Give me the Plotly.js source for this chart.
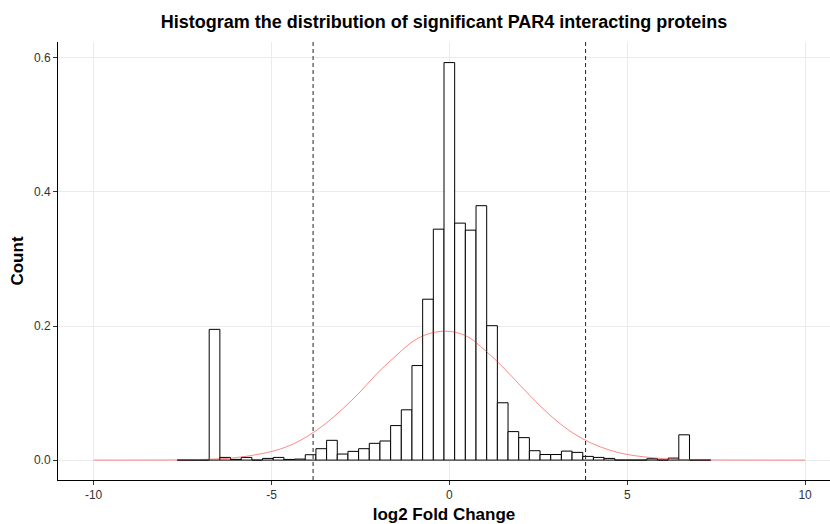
<!DOCTYPE html>
<html>
<head>
<meta charset="utf-8">
<script src="https://cdn.plot.ly/plotly-3.0.1.min.js"></script>
<style>html,body{margin:0;padding:0;background:#fff;}</style>
</head>
<body>
<div id="chart" style="width:830px;height:524px;"></div>
<script>
// Histogram bin centres (log2 fold change) and density heights
var binCenters = [-7.5,-7.2,-6.9,-6.6,-6.3,-6.0,-5.7,-5.4,-5.1,-4.8,-4.5,-4.2,-3.9,-3.6,-3.3,-3.0,-2.7,-2.4,-2.1,-1.8,-1.5,-1.2,-0.9,-0.6,-0.3,0.0,0.3,0.6,0.9,1.2,1.5,1.8,2.1,2.4,2.7,3.0,3.3,3.6,3.9,4.2,4.5,4.8,5.1,5.4,5.7,6.0,6.3,6.6,6.9,7.2];
var binDensity = [0,0,0,0.195,0.004,0.001,0.004,0,0.0025,0.004,0.001,0.0015,0.008,0.017,0.0295,0.009,0.013,0.017,0.025,0.0285,0.0515,0.075,0.141,0.240,0.3445,0.593,0.3535,0.343,0.3795,0.2005,0.0855,0.0425,0.0335,0.014,0.0083,0.0083,0.0134,0.0115,0.0055,0.004,0.0025,0,0,0,0.002,0,0.003,0.0377,0,0];
var binWidth = 0.3;

// Normal density overlay
var curveX = [-10,-9,-8,-7,-6,-5,-4.5,-4,-3.5,-3,-2.5,-2,-1.5,-1,-0.5,0,0.5,1,1.5,2,2.5,3,3.5,4,4.5,5,6,7,8,9,10];
var curveY = [0,0.00002,0.00015,0.00085,0.0037,0.0128,0.0215,0.0351,0.0535,0.0763,0.1022,0.131,0.1556,0.178,0.1897,0.192,0.1845,0.164,0.139,0.111,0.0835,0.0592,0.0395,0.0251,0.015,0.0084,0.0022,0.00047,0.0001,0.00001,0];

// Dashed cut-off lines
var cutoffs = [-3.83, 3.83];

var xTicks = [-10,-5,0,5,10];
var yTicks = [0,0.2,0.4,0.6];
var yTickText = ['0.0','0.2','0.4','0.6'];

var traces = [
  {
    type: 'bar',
    x: binCenters,
    y: binDensity,
    width: binWidth,
    marker: {color: '#ffffff', line: {color: '#000000', width: 1}},
    hoverinfo: 'x+y',
    showlegend: false
  },
  {
    type: 'scatter',
    mode: 'lines',
    x: curveX,
    y: curveY,
    line: {color: 'rgba(255,40,40,0.7)', width: 0.8, shape: 'spline'},
    showlegend: false
  }
];

var shapes = cutoffs.map(function(c){
  return {type:'line', xref:'x', yref:'paper', x0:c, x1:c, y0:0, y1:1,
          line:{color:'#222', width:1, dash:'4px,3px'}};
});

var layout = {
  width: 830, height: 524,
  margin: {l: 58, r: 0, t: 42, b: 44},
  paper_bgcolor: '#ffffff',
  plot_bgcolor: '#ffffff',
  font: {family: 'Liberation Sans, Arial, sans-serif', color: '#333'},
  title: {
    text: '<b>Histogram the distribution of significant PAR4 interacting proteins</b>',
    font: {size: 18, color: '#000', family: 'Liberation Sans, Arial, sans-serif'},
    x: 0.5, xref: 'paper', xanchor: 'center',
    y: 0.958, yref: 'container', yanchor: 'middle'
  },
  bargap: 0,
  xaxis: {
    range: [-11, 10.70],
    tickvals: xTicks,
    ticktext: xTicks.map(String),
    showgrid: true, gridcolor: '#ebebeb', gridwidth: 1,
    zeroline: false,
    showline: true, linecolor: '#000', linewidth: 1,
    ticks: 'outside', ticklen: 4, tickcolor: '#333', tickwidth: 1,
    tickfont: {size: 12, color: '#333'},
    title: {text: '<b>log2 Fold Change</b>', font: {size: 17, color: '#000'}, standoff: 9},
    automargin: false
  },
  yaxis: {
    range: [-0.0297, 0.6237],
    tickvals: yTicks,
    ticktext: yTickText,
    showgrid: true, gridcolor: '#ebebeb', gridwidth: 1,
    zeroline: false,
    showline: true, linecolor: '#000', linewidth: 1,
    ticks: 'outside', ticklen: 4, tickcolor: '#333', tickwidth: 1,
    tickfont: {size: 12, color: '#333'},
    title: {text: '<b>Count</b>', font: {size: 17, color: '#000'}, standoff: 5},
    automargin: false
  },
  shapes: shapes
};

Plotly.newPlot('chart', traces, layout, {displayModeBar: false, staticPlot: true});
</script>
</body>
</html>
